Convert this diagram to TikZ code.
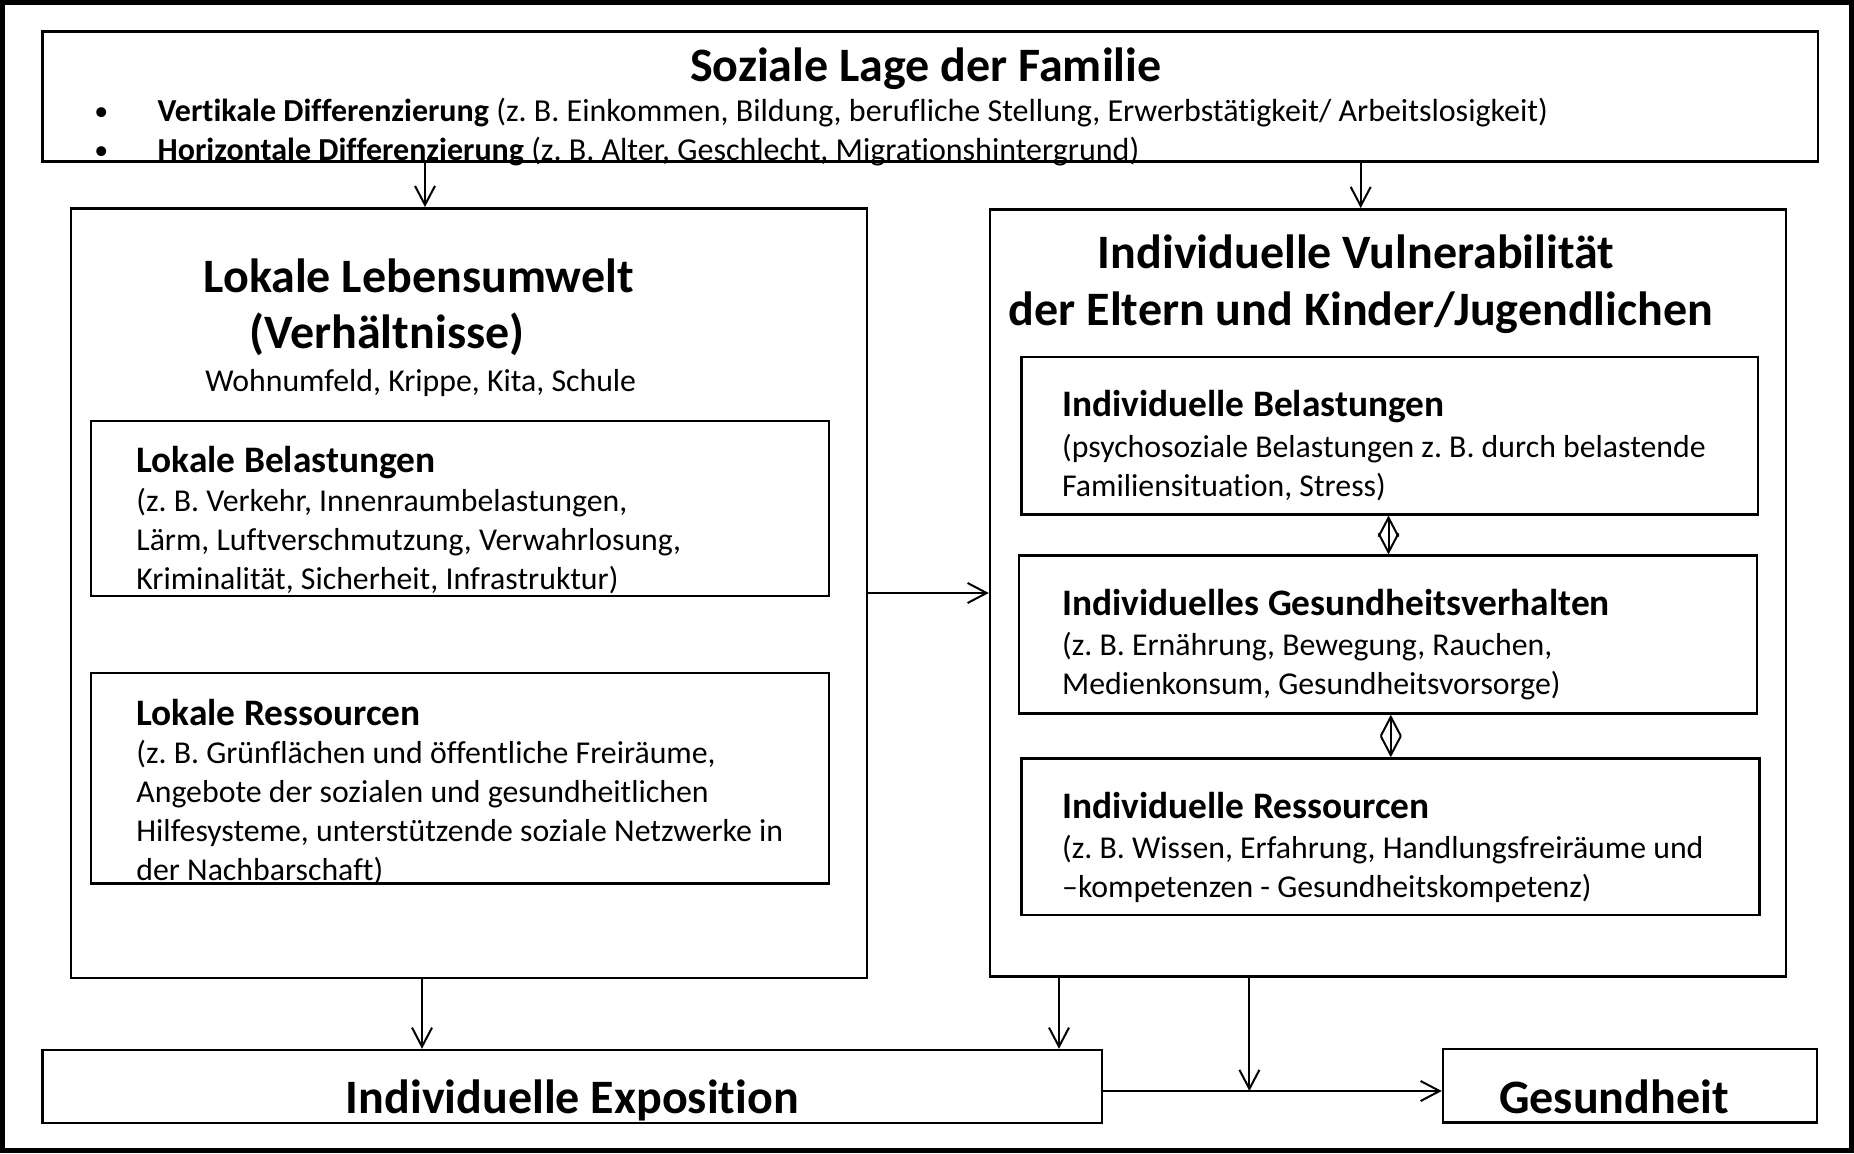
\documentclass[tikz,border=0pt]{standalone}
\usepackage{fontspec}
\setmainfont{Carlito}[Ligatures={NoCommon}]
\usetikzlibrary{arrows.meta,fit}
\tikzset{
 box/.style={draw, line width=1.25pt, inner sep=0pt, rectangle},
 txt/.style={inner sep=0pt, anchor=base west, align=left},
 ctxt/.style={inner sep=0pt, anchor=base},
 bigt/.style={font=\fontsize{24pt}{28pt}\selectfont\bfseries},
 subt/.style={font=\fontsize{18.7pt}{22pt}\selectfont\bfseries},
 body/.style={font=\fontsize{15.9pt}{19.5pt}\selectfont},
 bul/.style={font=\fontsize{16pt}{19.5pt}\selectfont},
 dot/.style={font=\fontsize{14pt}{19.5pt}\selectfont},
 arr/.style={line width=1pt, -{Straight Barb[length=9.5pt,width=10pt]}},
 darr/.style={line width=1pt, {Straight Barb[length=9.5pt,width=10pt]}-{Straight Barb[length=9.5pt,width=10pt]}},
}
\begin{document}
\begin{tikzpicture}[x=0.5pt,y=-0.5pt]
\useasboundingbox (0,0) rectangle (1854,1153);
\draw[line width=2.5pt] (2.5,2.5) rectangle (1851.5,1150.5);

% boxes
\coordinate (t1) at (42.7,31.7); \coordinate (t2) at (1818,161.7);
\node[box, fit=(t1)(t2)] (top) {};
\coordinate (l1) at (71,208.3); \coordinate (l2) at (867,977.8);
\node[box, fit=(l1)(l2)] (lokal) {};
\coordinate (lb1) at (91,421); \coordinate (lb2) at (829,596);
\node[box, fit=(lb1)(lb2)] (lbel) {};
\coordinate (lr1) at (91,672.8); \coordinate (lr2) at (829,883.3);
\node[box, fit=(lr1)(lr2)] (lres) {};
\coordinate (v1) at (990,209.3); \coordinate (v2) at (1786,976.7);
\node[box, fit=(v1)(v2)] (vuln) {};
\coordinate (ib1a) at (1021.6,357.1); \coordinate (ib1b) at (1758.2,514.3);
\node[box, fit=(ib1a)(ib1b)] (ibel) {};
\coordinate (ib2a) at (1019.2,555.7); \coordinate (ib2b) at (1757,713.5);
\node[box, fit=(ib2a)(ib2b)] (igv) {};
\coordinate (ib3a) at (1021.6,758.5); \coordinate (ib3b) at (1759.4,915.2);
\node[box, fit=(ib3a)(ib3b)] (ires) {};
\coordinate (e1) at (42.6,1050); \coordinate (e2) at (1102,1123);
\node[box, fit=(e1)(e2)] (expo) {};
\coordinate (g1) at (1443,1049); \coordinate (g2) at (1817,1122.5);
\node[box, fit=(g1)(g2)] (ges) {};

% texts: top box
\node[ctxt, bigt] (ttitle) at (925.8,81.5) {Soziale Lage der Familie};
\node[txt, dot] (bul1) at (94,120) {•};
\node[txt, dot] (bul2) at (94,159) {•};
\node[txt, bul] (tl1) at (157.3,121) {\textbf{Vertikale Differenzierung} (z.\ B. Einkommen, Bildung, berufliche Stellung, Erwerbstätigkeit/ Arbeitslosigkeit)};
\node[txt, bul] (tl2) at (157.3,160) {\textbf{Horizontale Differenzierung} (z.\ B. Alter, Geschlecht, Migrationshintergrund)};

% left box
\node[ctxt, bigt] (ltitle) at (418.6,292) {Lokale Lebensumwelt};
\node[txt, bigt] (lsub) at (249,348.5) {(Verhältnisse)};
\node[txt, body] (lwo) at (205,391.5) {Wohnumfeld, Krippe, Kita, Schule};
\node[txt, subt] (lbt) at (136,472) {Lokale Belastungen};
\node[txt, body] (lbx) at (136,589.6) {(z.\ B. Verkehr, Innenraumbelastungen,\\Lärm, Luftverschmutzung, Verwahrlosung,\\Kriminalität, Sicherheit, Infrastruktur)};
\node[txt, subt] (lrt) at (136,725) {Lokale Ressourcen};
\node[txt, body] (lrx) at (136,880.5) {(z.\ B. Grünflächen und öffentliche Freiräume,\\Angebote der sozialen und gesundheitlichen\\Hilfesysteme, unterstützende soziale Netzwerke in\\der Nachbarschaft)};

% right box
\node[ctxt, bigt] (vt1) at (1356,268.5) {Individuelle Vulnerabilität};
\node[ctxt, bigt] (vt2) at (1361,325) {der Eltern und Kinder/Jugendlichen};
\node[txt, subt] (ibt) at (1061.8,416.7) {Individuelle Belastungen};
\node[txt, body] (ibx) at (1061.8,496.3) {(psychosoziale Belastungen z.\ B. durch belastende\\Familiensituation, Stress)};
\node[txt, subt] (igt) at (1061.8,615) {Individuelles Gesundheitsverhalten};
\node[txt, body] (igx) at (1061.8,694.9) {(z.\ B. Ernährung, Bewegung, Rauchen,\\Medienkonsum, Gesundheitsvorsorge)};
\node[txt, subt] (irt) at (1061.8,818.5) {Individuelle Ressourcen};
\node[txt, body] (irx) at (1061.8,897.1) {(z.\ B. Wissen, Erfahrung, Handlungsfreiräume und\\–kompetenzen - Gesundheitskompetenz)};

% bottom
\node[ctxt, bigt] (et) at (572.3,1113) {Individuelle Exposition};
\node[ctxt, bigt] (gt) at (1614,1113) {Gesundheit};

% connector positions
\coordinate (xa) at (425,0);
\coordinate (xb) at (1360.7,0);
\coordinate (ya) at (0,593);
\coordinate (xc) at (422,0);
\coordinate (xd) at (1059,0);
\coordinate (xe) at (1249.4,0);
\coordinate (yf) at (0,1091);
\coordinate (xg) at (1388.5,0);
\coordinate (xh) at (1390.8,0);
\coordinate (hit) at (xe |- yf);

\draw[arr] (top.south -| xa) -- (lokal.north -| xa);
\draw[arr] (top.south -| xb) -- (vuln.north -| xb);
\draw[arr] (lokal.east |- ya) -- (vuln.west |- ya);
\draw[darr] (ibel.south -| xg) -- (igv.north -| xg);
\draw[darr] (igv.south -| xh) -- (ires.north -| xh);
\draw[arr] (lokal.south -| xc) -- (expo.north -| xc);
\draw[arr] (vuln.south -| xd) -- (expo.north -| xd);
\draw[arr] (vuln.south -| xe) -- (hit);
\draw[arr] (expo.east |- yf) -- (ges.west |- yf);
\end{tikzpicture}
\end{document}
